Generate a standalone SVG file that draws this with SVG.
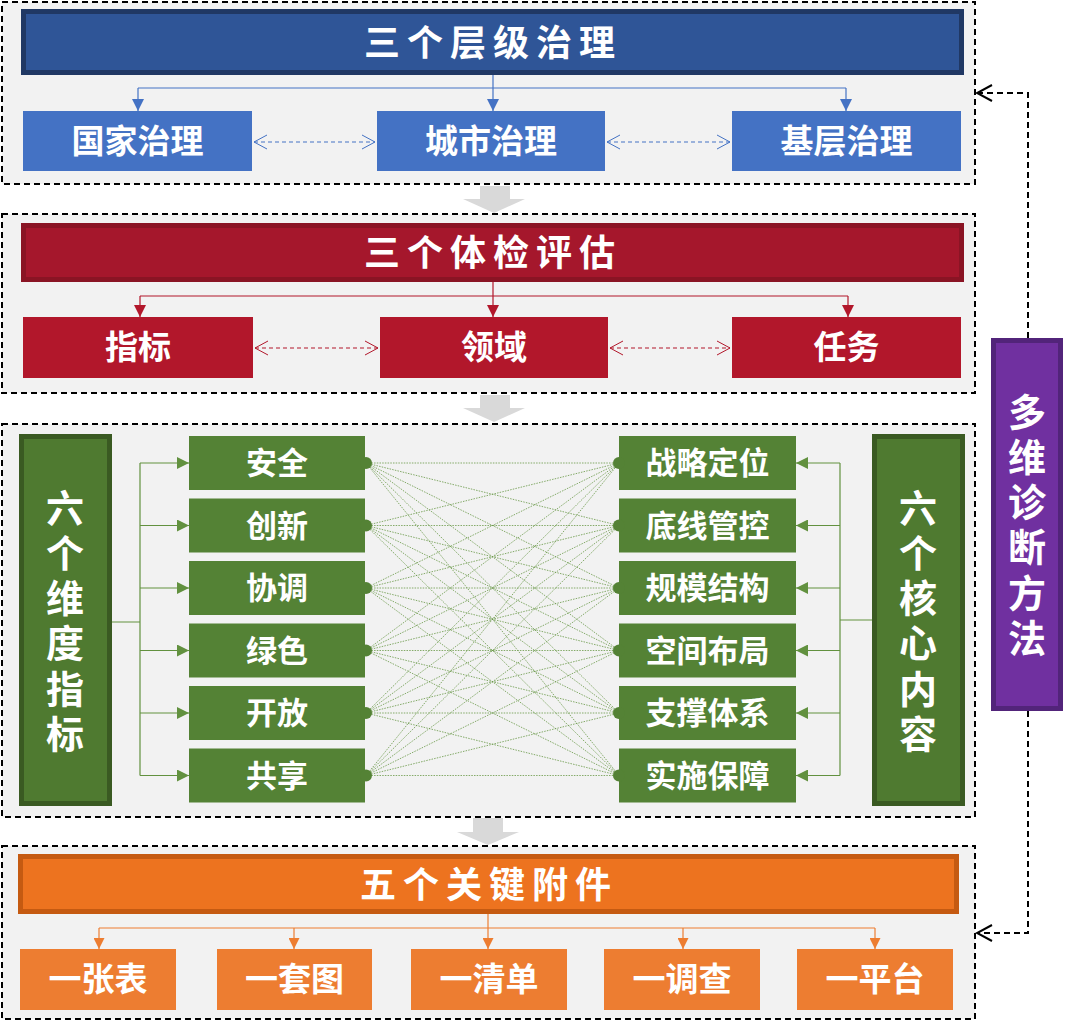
<svg xmlns="http://www.w3.org/2000/svg" width="1069" height="1021" viewBox="0 0 1069 1021">
<style>
text{font-family:"Noto Sans CJK SC","Noto Sans",sans-serif;font-weight:bold;fill:#fff}
.sec{fill:#F2F2F2;stroke:#000;stroke-width:2;stroke-dasharray:6 4}
.ga{fill:#D9D9D9}
.title{font-size:36px;letter-spacing:7px;text-anchor:middle}
.sub{font-size:33px;text-anchor:middle}
.item{font-size:31px;text-anchor:middle}
.vert{font-size:38px;text-anchor:middle;writing-mode:vertical-rl;letter-spacing:7.3px}
.blue{fill:#4472C4}
.red{fill:#B2172B}
.org{fill:#ED7D31}
.grn{fill:#548235}
.big{fill:#4F7A30;stroke:#3A5A22;stroke-width:5}
.cb{stroke:#4472C4;stroke-width:1.2;fill:none}
.cr{stroke:#B2172B;stroke-width:1.2;fill:none}
.co{stroke:#ED7D31;stroke-width:1.2;fill:none}
.cg{stroke:#62913F;stroke-width:1.2;fill:none}
.dash{stroke-dasharray:4 3;stroke-width:1}
.mesh line{stroke:#6A9A48;stroke-width:1;stroke-dasharray:1.5 1.2;opacity:0.8}
.blk{stroke:#000;stroke-width:2;stroke-dasharray:6 4;fill:none}
</style>
<defs>
<marker id="tb" viewBox="0 0 12 12" refX="12" refY="6" markerWidth="12" markerHeight="12" markerUnits="userSpaceOnUse" orient="auto"><path d="M0,0 L12,6 L0,12 z" fill="#4472C4"/></marker>
<marker id="tr" viewBox="0 0 12 12" refX="12" refY="6" markerWidth="12" markerHeight="12" markerUnits="userSpaceOnUse" orient="auto"><path d="M0,0 L12,6 L0,12 z" fill="#B2172B"/></marker>
<marker id="to" viewBox="0 0 12 12" refX="12" refY="6" markerWidth="11" markerHeight="11" markerUnits="userSpaceOnUse" orient="auto"><path d="M0,0 L12,6 L0,12 z" fill="#ED7D31"/></marker>
<marker id="tg" viewBox="0 0 12 12" refX="12" refY="6" markerWidth="12" markerHeight="12" markerUnits="userSpaceOnUse" orient="auto"><path d="M0,0 L12,6 L0,12 z" fill="#62913F"/></marker>
<marker id="vb" viewBox="-1 -1 15 16" refX="13" refY="7" markerWidth="15" markerHeight="16" markerUnits="userSpaceOnUse" orient="auto-start-reverse"><path d="M0,0 L13,7 L0,14" fill="none" stroke="#4472C4" stroke-width="1"/></marker>
<marker id="vr" viewBox="-1 -1 15 16" refX="13" refY="7" markerWidth="15" markerHeight="16" markerUnits="userSpaceOnUse" orient="auto-start-reverse"><path d="M0,0 L13,7 L0,14" fill="none" stroke="#B2172B" stroke-width="1"/></marker>
<marker id="vk" viewBox="-1 -1 18 18" refX="15" refY="8" markerWidth="18" markerHeight="18" markerUnits="userSpaceOnUse" orient="auto"><path d="M0,0 L15,8 L0,16" fill="none" stroke="#000" stroke-width="2"/></marker>
</defs>

<g id="sections">
<rect class="sec" x="2" y="2" width="973" height="182"/>
<rect class="sec" x="2" y="214" width="973" height="179"/>
<rect class="sec" x="2" y="424" width="973" height="393"/>
<rect class="sec" x="2" y="846" width="973" height="173"/>
<polygon class="ga" points="480,186 510,186 510,199 525,199 494,213 463,199 480,199"/>
<polygon class="ga" points="480,395 510,395 510,408 525,408 494,422 463,408 480,408"/>
<polygon class="ga" points="473,818 503,818 503,832 519,832 488,845 457,832 473,832"/>
</g>

<g id="connectors">
<path class="cb" d="M493,75 V111" marker-end="url(#tb)"/>
<path class="cb" d="M138,88 H846"/>
<path class="cb" d="M138,88 V111" marker-end="url(#tb)"/>
<path class="cb" d="M846,88 V111" marker-end="url(#tb)"/>
<path class="cb dash" d="M254,142 H375" marker-start="url(#vb)" marker-end="url(#vb)"/>
<path class="cb dash" d="M607,142 H730" marker-start="url(#vb)" marker-end="url(#vb)"/>

<path class="cr" d="M493,282 V317" marker-end="url(#tr)"/>
<path class="cr" d="M140,296 H848"/>
<path class="cr" d="M140,296 V317" marker-end="url(#tr)"/>
<path class="cr" d="M848,296 V317" marker-end="url(#tr)"/>
<path class="cr dash" d="M255,348 H378" marker-start="url(#vr)" marker-end="url(#vr)"/>
<path class="cr dash" d="M610,348 H730" marker-start="url(#vr)" marker-end="url(#vr)"/>

<path class="co" d="M488,914 V949" marker-end="url(#to)"/>
<path class="co" d="M99,928 H875"/>
<path class="co" d="M99,928 V949" marker-end="url(#to)"/>
<path class="co" d="M294,928 V949" marker-end="url(#to)"/>
<path class="co" d="M683,928 V949" marker-end="url(#to)"/>
<path class="co" d="M875,928 V949" marker-end="url(#to)"/>

<path class="cg" d="M112,622 H140 M140,463 V775.5"/>
<path class="cg" d="M140,463 H189" marker-end="url(#tg)"/>
<path class="cg" d="M140,525.5 H189" marker-end="url(#tg)"/>
<path class="cg" d="M140,588 H189" marker-end="url(#tg)"/>
<path class="cg" d="M140,650.5 H189" marker-end="url(#tg)"/>
<path class="cg" d="M140,713 H189" marker-end="url(#tg)"/>
<path class="cg" d="M140,775.5 H189" marker-end="url(#tg)"/>
<path class="cg" d="M872,620 H840 M840,463 V775.5"/>
<path class="cg" d="M840,463 H796" marker-end="url(#tg)"/>
<path class="cg" d="M840,525.5 H796" marker-end="url(#tg)"/>
<path class="cg" d="M840,588 H796" marker-end="url(#tg)"/>
<path class="cg" d="M840,650.5 H796" marker-end="url(#tg)"/>
<path class="cg" d="M840,713 H796" marker-end="url(#tg)"/>
<path class="cg" d="M840,775.5 H796" marker-end="url(#tg)"/>

<g class="mesh">
<line x1="366" y1="463" x2="619" y2="463"/><line x1="366" y1="463" x2="619" y2="525.5"/><line x1="366" y1="463" x2="619" y2="588"/><line x1="366" y1="463" x2="619" y2="650.5"/><line x1="366" y1="463" x2="619" y2="713"/><line x1="366" y1="463" x2="619" y2="775.5"/>
<line x1="366" y1="525.5" x2="619" y2="463"/><line x1="366" y1="525.5" x2="619" y2="525.5"/><line x1="366" y1="525.5" x2="619" y2="588"/><line x1="366" y1="525.5" x2="619" y2="650.5"/><line x1="366" y1="525.5" x2="619" y2="713"/><line x1="366" y1="525.5" x2="619" y2="775.5"/>
<line x1="366" y1="588" x2="619" y2="463"/><line x1="366" y1="588" x2="619" y2="525.5"/><line x1="366" y1="588" x2="619" y2="588"/><line x1="366" y1="588" x2="619" y2="650.5"/><line x1="366" y1="588" x2="619" y2="713"/><line x1="366" y1="588" x2="619" y2="775.5"/>
<line x1="366" y1="650.5" x2="619" y2="463"/><line x1="366" y1="650.5" x2="619" y2="525.5"/><line x1="366" y1="650.5" x2="619" y2="588"/><line x1="366" y1="650.5" x2="619" y2="650.5"/><line x1="366" y1="650.5" x2="619" y2="713"/><line x1="366" y1="650.5" x2="619" y2="775.5"/>
<line x1="366" y1="713" x2="619" y2="463"/><line x1="366" y1="713" x2="619" y2="525.5"/><line x1="366" y1="713" x2="619" y2="588"/><line x1="366" y1="713" x2="619" y2="650.5"/><line x1="366" y1="713" x2="619" y2="713"/><line x1="366" y1="713" x2="619" y2="775.5"/>
<line x1="366" y1="775.5" x2="619" y2="463"/><line x1="366" y1="775.5" x2="619" y2="525.5"/><line x1="366" y1="775.5" x2="619" y2="588"/><line x1="366" y1="775.5" x2="619" y2="650.5"/><line x1="366" y1="775.5" x2="619" y2="713"/><line x1="366" y1="775.5" x2="619" y2="775.5"/>
</g>

<path class="blk" d="M1028,338 V93 H977" marker-end="url(#vk)"/>
<path class="blk" d="M1028,711 V933 H977" marker-end="url(#vk)"/>
</g>

<g id="title1">
<rect x="23.5" y="11.5" width="938" height="61" fill="#2F5597" stroke="#203864" stroke-width="5"/>
<text class="title" x="493" y="56">三个层级治理</text>
</g>
<g id="n-guojia"><rect class="blue" x="23" y="111" width="229" height="60"/><text class="sub" x="137.5" y="153">国家治理</text></g>
<g id="n-chengshi"><rect class="blue" x="377" y="111" width="228" height="60"/><text class="sub" x="491" y="153">城市治理</text></g>
<g id="n-jiceng"><rect class="blue" x="732" y="111" width="229" height="60"/><text class="sub" x="846.5" y="153">基层治理</text></g>

<g id="title2">
<rect x="23.5" y="225.5" width="938" height="54" fill="#A5172C" stroke="#8A1424" stroke-width="5"/>
<text class="title" x="493" y="265.5">三个体检评估</text>
</g>
<g id="n-zhibiao"><rect class="red" x="23" y="317" width="230" height="61"/><text class="sub" x="138" y="359">指标</text></g>
<g id="n-lingyu"><rect class="red" x="380" y="317" width="228" height="61"/><text class="sub" x="494" y="359">领域</text></g>
<g id="n-renwu"><rect class="red" x="732" y="317" width="229" height="61"/><text class="sub" x="846.5" y="359">任务</text></g>

<g id="n-liuge-weidu">
<rect class="big" x="21.5" y="436.5" width="88" height="367"/>
<text class="vert" x="65" y="624">六个维度指标</text>
</g>
<g id="n-liuge-hexin">
<rect class="big" x="874.5" y="436.5" width="88" height="367"/>
<text class="vert" x="918" y="624">六个核心内容</text>
</g>

<g id="n-anquan"><rect class="grn" x="189" y="436" width="176" height="54"/><circle class="grn" cx="366" cy="463" r="6"/><text class="item" x="277" y="474">安全</text></g>
<g id="n-chuangxin"><rect class="grn" x="189" y="498.5" width="176" height="54"/><circle class="grn" cx="366" cy="525.5" r="6"/><text class="item" x="277" y="536.5">创新</text></g>
<g id="n-xietiao"><rect class="grn" x="189" y="561" width="176" height="54"/><circle class="grn" cx="366" cy="588" r="6"/><text class="item" x="277" y="599">协调</text></g>
<g id="n-lvse"><rect class="grn" x="189" y="623.5" width="176" height="54"/><circle class="grn" cx="366" cy="650.5" r="6"/><text class="item" x="277" y="661.5">绿色</text></g>
<g id="n-kaifang"><rect class="grn" x="189" y="686" width="176" height="54"/><circle class="grn" cx="366" cy="713" r="6"/><text class="item" x="277" y="724">开放</text></g>
<g id="n-gongxiang"><rect class="grn" x="189" y="748.5" width="176" height="54"/><circle class="grn" cx="366" cy="775.5" r="6"/><text class="item" x="277" y="786.5">共享</text></g>

<g id="n-zhanlue"><rect class="grn" x="619" y="436" width="177" height="54"/><circle class="grn" cx="619" cy="463" r="6"/><text class="item" x="707.5" y="474">战略定位</text></g>
<g id="n-dixian"><rect class="grn" x="619" y="498.5" width="177" height="54"/><circle class="grn" cx="619" cy="525.5" r="6"/><text class="item" x="707.5" y="536.5">底线管控</text></g>
<g id="n-guimo"><rect class="grn" x="619" y="561" width="177" height="54"/><circle class="grn" cx="619" cy="588" r="6"/><text class="item" x="707.5" y="599">规模结构</text></g>
<g id="n-kongjian"><rect class="grn" x="619" y="623.5" width="177" height="54"/><circle class="grn" cx="619" cy="650.5" r="6"/><text class="item" x="707.5" y="661.5">空间布局</text></g>
<g id="n-zhicheng"><rect class="grn" x="619" y="686" width="177" height="54"/><circle class="grn" cx="619" cy="713" r="6"/><text class="item" x="707.5" y="724">支撑体系</text></g>
<g id="n-shishi"><rect class="grn" x="619" y="748.5" width="177" height="54"/><circle class="grn" cx="619" cy="775.5" r="6"/><text class="item" x="707.5" y="786.5">实施保障</text></g>

<g id="title4">
<rect x="20.5" y="856.5" width="936" height="55" fill="#ED731F" stroke="#C55A11" stroke-width="5"/>
<text class="title" x="489" y="897.5">五个关键附件</text>
</g>
<g id="n-zhangbiao"><rect class="org" x="20" y="949" width="156" height="61"/><text class="sub" x="98" y="991">一张表</text></g>
<g id="n-taotu"><rect class="org" x="217" y="949" width="155" height="61"/><text class="sub" x="294.5" y="991">一套图</text></g>
<g id="n-qingdan"><rect class="org" x="411" y="949" width="156" height="61"/><text class="sub" x="489" y="991">一清单</text></g>
<g id="n-diaocha"><rect class="org" x="604" y="949" width="156" height="61"/><text class="sub" x="682" y="991">一调查</text></g>
<g id="n-pingtai"><rect class="org" x="797" y="949" width="156" height="61"/><text class="sub" x="875" y="991">一平台</text></g>

<g id="n-duowei">
<rect x="993.5" y="340.5" width="67" height="368" fill="#7030A0" stroke="#52247A" stroke-width="5"/>
<text class="vert" x="1027" y="528">多维诊断方法</text>
</g>
</svg>
